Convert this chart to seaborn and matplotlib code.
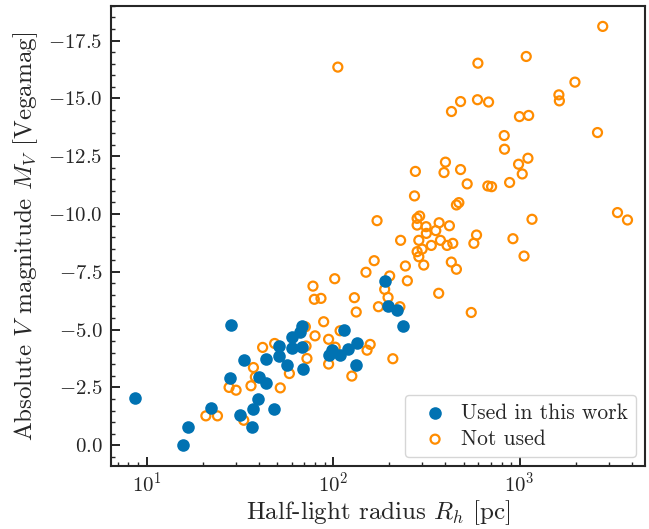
import numpy as np
import pandas as pd
import seaborn as sns
import matplotlib
matplotlib.use("Agg")
import matplotlib.pyplot as plt
from matplotlib.ticker import MultipleLocator

# -----------------------------
# Data
# -----------------------------
used_r = [8.68, 15.6, 16.6, 22.2, 28.2, 28.1, 31.8, 33.5, 36.7, 37.2,
          39.5, 40.2, 43.6, 43.6, 48.0, 51.0, 51.4, 56.6, 60.1, 60.1,
          66.7, 68.1, 68.1, 68.6, 94.6, 98.6, 115, 134.5, 119.7, 109.5,
          133, 190.5, 197, 220, 237]
used_mv = [-2.06, 0.0, -0.79, -1.59, -5.19, -2.89, -1.29, -3.67, -0.79, -1.55,
           -1.98, -2.93, -3.74, -2.68, -1.56, -4.29, -3.85, -3.46, -4.69, -4.19,
           -4.91, -5.17, -4.26, -3.29, -3.90, -4.11, -4.98, -4.43, -4.17, -3.90,
           -3.49, -7.10, -6.02, -5.83, -5.15]

notused_r = [20.8, 24.0, 27.7, 30.2, 33.2, 36.3, 37.4, 38.3, 41.9, 48.6,
             52.1, 58.3, 72.4, 71.6, 71.0, 80.0, 94.6, 94.6, 89.0, 79.3,
             86.1, 78.0, 109, 102.6,
             523, 273, 458, 472, 172, 282, 291, 282, 315, 370,
             420, 355, 316, 230, 288, 376, 336, 408, 438, 300,
             282, 288, 568, 587, 166, 150, 244, 306, 250, 430,
             458, 368, 550, 102, 130, 133, 201, 189, 197, 175,
             228, 158, 152, 209, 126,
             106, 597, 482, 594, 681, 431, 997, 1117, 1622, 1632,
             826, 829, 1107, 986, 1032, 883, 400, 393, 482, 276,
             675, 707, 1164, 920, 1055, 2786, 1084, 1977, 2612, 3343,
             3782]
notused_mv = [-1.27, -1.27, -2.50, -2.38, -1.08, -2.57, -3.36, -2.95, -4.23, -4.40,
              -2.48, -3.10, -3.75, -4.29, -5.12, -4.73, -3.51, -4.58, -5.34, -6.31,
              -6.35, -6.88, -4.95, -4.24,
              -11.30, -10.78, -10.39, -10.49, -9.71, -9.81, -9.91, -9.52, -9.45, -9.62,
              -9.49, -9.28, -9.16, -8.86, -8.86, -8.86, -8.64, -8.64, -8.73, -8.48,
              -8.37, -8.15, -8.73, -9.09, -7.98, -7.48, -7.75, -7.79, -7.11, -7.92,
              -7.61, -6.57, -5.74, -7.20, -6.38, -5.76, -7.32, -6.74, -6.39, -5.99,
              -5.99, -4.36, -4.11, -3.74, -2.99,
              -16.35, -16.52, -14.86, -14.94, -14.84, -14.43, -14.21, -14.26, -15.15, -14.89,
              -13.39, -12.80, -12.41, -12.15, -11.73, -11.36, -12.24, -11.79, -11.92, -11.84,
              -11.21, -11.18, -9.77, -8.93, -8.18, -18.11, -16.81, -15.70, -13.52, -10.06,
              -9.74]

used = pd.DataFrame({"rh": used_r, "mv": used_mv})
notused = pd.DataFrame({"rh": notused_r, "mv": notused_mv})

# -----------------------------
# Style
# -----------------------------
sns.set_style("ticks")
plt.rcParams["font.family"] = "serif"
plt.rcParams["font.serif"] = ["cmr10"]
plt.rcParams["mathtext.fontset"] = "cm"
plt.rcParams["axes.formatter.use_mathtext"] = True
plt.rcParams["xtick.direction"] = "in"
plt.rcParams["ytick.direction"] = "in"

fig, ax = plt.subplots(figsize=(6.49, 5.29), dpi=100)
fig.subplots_adjust(left=0.171, right=0.994, top=0.989, bottom=0.119)

sns.scatterplot(data=used, x="rh", y="mv", ax=ax, color="#0072B2",
                s=82, linewidth=0, label="Used in this work", zorder=3)
sns.scatterplot(data=notused, x="rh", y="mv", ax=ax, facecolor="none",
                edgecolor="darkorange", s=42, linewidth=1.6,
                label="Not used", zorder=2)

ax.set_xscale("log")
ax.set_xlim(6.45, 4700)
ax.set_ylim(0.9, -19.0)
ax.yaxis.set_major_locator(MultipleLocator(2.5))
ax.yaxis.set_minor_locator(MultipleLocator(0.5))

ax.set_xlabel(r"Half-light radius $R_h$ [pc]", fontsize=18, labelpad=2)
ax.set_ylabel(r"Absolute $V$ magnitude $M_V$ [Vegamag]", fontsize=18, labelpad=6)
ax.tick_params(which="major", length=6.5, width=1.4, labelsize=15)
ax.tick_params(axis="y", which="major", pad=6)
ax.tick_params(axis="x", which="major", pad=4)
ax.tick_params(which="minor", length=3, width=1.0)
for sp in ax.spines.values():
    sp.set_linewidth(1.5)

ax.legend(loc="lower right", fontsize=15.5, handletextpad=0.2,
          borderaxespad=0.4, labelspacing=0.3)

plt.savefig("out.png", dpi=100)
